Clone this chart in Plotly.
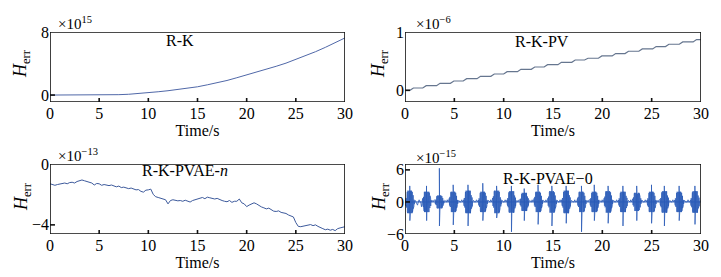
import plotly.graph_objects as go

# ---------------- data ----------------
# Panel 1: R-K (x 1e15)
rk_t = [0, 1, 2, 3, 4, 5, 6, 7, 8, 9, 10, 11, 12, 13, 14, 15, 16, 17, 18, 19,
        20, 21, 22, 23, 24, 25, 26, 27, 28, 29, 30]
rk_v = [0, 0, 0, 0, 0, 0, 0.02, 0.05, 0.10, 0.18, 0.30, 0.42, 0.55, 0.70, 0.87,
        1.05, 1.30, 1.55, 1.85, 2.20, 2.55, 2.90, 3.25, 3.65, 4.05, 4.50, 5.00,
        5.50, 6.05, 6.65, 7.25]

# Panel 2: R-K-PV (x 1e-6), staircase: step times and level after each step
pv_step_t = [0.7, 2.0, 3.4, 4.8, 6.1, 7.5, 8.9, 10.2, 11.6, 13.0, 14.3, 15.7,
             17.1, 18.4, 19.8, 21.2, 22.5, 23.9, 25.3, 26.6, 28.0, 29.4]
pv_level = [0.04, 0.08, 0.12, 0.16, 0.20, 0.24, 0.28, 0.32, 0.36, 0.40, 0.44,
            0.48, 0.52, 0.55, 0.59, 0.63, 0.67, 0.71, 0.75, 0.79, 0.83, 0.87]

# Panel 3: R-K-PVAE-n (x 1e-13), sampled every 0.25 s
n_v = [-1.30, -1.33, -1.40, -1.35, -1.33, -1.28, -1.25, -1.30, -1.22, -1.20,
       -1.25, -1.15, -1.12, -1.05, -1.10, -1.15, -1.20, -1.25, -1.38, -1.28,
       -1.30, -1.40, -1.35, -1.38, -1.42, -1.38, -1.45, -1.50, -1.45, -1.55,
       -1.52, -1.58, -1.62, -1.58, -1.65, -1.70, -1.68, -1.80, -1.85, -1.72,
       -1.70, -1.65, -2.00, -2.15, -2.20, -2.25, -2.30, -2.35, -2.62, -2.40,
       -2.35, -2.38, -2.42, -2.40, -2.45, -2.38, -2.42, -2.50, -2.40, -2.35,
       -2.30, -2.25, -2.20, -2.28, -2.18, -2.22, -2.25, -2.30, -2.26, -2.35,
       -2.40, -2.45, -2.48, -2.40, -2.52, -2.45, -2.45, -2.30, -2.55, -2.62,
       -2.80, -2.70, -2.65, -2.55, -2.62, -2.75, -2.82, -2.88, -2.95, -2.90,
       -3.02, -3.10, -3.12, -3.08, -3.18, -3.20, -3.25, -3.35, -3.40, -3.48,
       -3.85, -4.10, -4.12, -4.08, -4.05, -4.02, -3.98, -4.05, -4.00, -4.10,
       -4.15, -4.25, -4.32, -4.28, -4.35, -4.30, -4.38, -4.25, -4.20, -4.15,
       -4.12]
n_t = [i * 0.25 for i in range(len(n_v))]

# Panel 4: R-K-PVAE-0 (x 1e-15), oscillation bursts
burst_t = [0.5, 2.2, 3.5, 4.9, 6.4, 7.9, 9.3, 10.8, 12.1, 13.5, 14.9, 16.35,
           17.9, 19.2, 20.6, 22.1, 23.5, 25.0, 26.3, 27.8, 29.4]
burst_amp = [2.1, 1.9, 1.2, 1.9, 2.1, 1.9, 2.1, 2.0, 1.7, 1.9, 2.0, 2.1, 1.9,
             1.9, 2.0, 1.9, 1.7, 1.9, 2.0, 1.9, 2.0]
spike_up = [3.0, 3.0, 6.3, 3.2, 3.2, 3.5, 3.0, 3.0, 2.5, 3.2, 3.0, 3.0, 3.0,
            3.2, 3.0, 3.0, 3.0, 3.2, 3.0, 3.0, 3.0]
spike_dn = [-3.5, -3.5, -4.5, -4.3, -4.5, -3.5, -3.0, -5.6, -3.5, -4.2, -4.5,
            -4.0, -5.6, -3.5, -4.0, -4.5, -3.5, -4.0, -4.5, -3.5, -4.2]
# stroke profile across a burst (relative amplitude, read from the bursts)
burst_profile = [0.2, 0.35, 0.25, 0.5, 0.4, 0.9, 1.0, 0.95, 1.0, 1.0, 0.95, 1.0,
                 1.0, 1.0, 0.9, 1.0, 1.0, 0.95, 1.0, 0.9, 0.45, 0.6, 0.3, 0.4, 0.2]
# low-level strokes between bursts
gap_profile = [0.0, 0.4, 0.0, 0.0, 0.9, 0.0, 0.3, 0.0, 0.0, 0.6, 0.0, 0.2]

xticks = [0, 5, 10, 15, 20, 25, 30]

# ---------------- build series ----------------
pv_t, pv_v = [0.0], [0.0]
prev = 0.0
for st, lv in zip(pv_step_t, pv_level):
    pv_t += [st - 0.2, st + 0.15]
    pv_v += [prev, lv]
    prev = lv
pv_t.append(30.0)
pv_v.append(prev)

z_t, z_v = [], []
edges = [0.0] + [(burst_t[i] + burst_t[i + 1]) / 2 for i in range(len(burst_t) - 1)] + [30.0]
HALF = 0.45
for i, c in enumerate(burst_t):
    g0, g1 = edges[i], c - HALF
    if g1 > g0:
        n = max(2, int((g1 - g0) / 0.08))
        for k in range(n):
            tt = g0 + (g1 - g0) * k / n
            a = gap_profile[k % len(gap_profile)]
            z_t.append(tt); z_v.append(a if k % 2 else -a)
    m = len(burst_profile)
    step = 2 * HALF / m
    for k, p in enumerate(burst_profile):
        tt = c - HALF + k * step
        for j in range(4):
            sgn = 1 if (k * 4 + j) % 2 == 0 else -1
            z_t.append(tt + j * step / 4)
            z_v.append(sgn * burst_amp[i] * p)
        if k == m // 2:
            z_t += [tt, tt + 0.01]
            z_v += [spike_up[i], spike_dn[i]]
    g0, g1 = c + HALF, edges[i + 1]
    if g1 > g0:
        n = max(2, int((g1 - g0) / 0.08))
        for k in range(n):
            tt = g0 + (g1 - g0) * k / n
            a = gap_profile[(k + 5) % len(gap_profile)]
            z_t.append(tt); z_v.append(a if k % 2 else -a)

FONT = "Liberation Serif"

W, H = 721, 277
def px(x): return x / W
def py(y): return 1 - y / H

dom = {
    1: ([px(50), px(345)], [py(102), py(32)]),
    2: ([px(405), px(701)], [py(102), py(32)]),
    3: ([px(50), px(345)], [py(234), py(164)]),
    4: ([px(405), px(701)], [py(234), py(164)]),
}
yinfo = {
    1: ([-0.88, 8], [0, 8], ["0", "8"]),
    2: ([-0.2, 1], [0, 1], ["0", "1"]),
    3: ([-4.6, 0], [-4, 0], ["\u22124", "0"]),
    4: ([-6, 7.1], [-6, 0, 6], ["\u22126", "0", "6"]),
}

fig = go.Figure()
axis_common = dict(showline=False, ticks="", showgrid=False, zeroline=False,
                   automargin=False,
                   tickfont=dict(family=FONT, size=16, color="black"))
layout = {}
for i in range(1, 5):
    s = "" if i == 1 else str(i)
    xd, yd = dom[i]
    layout["xaxis" + s] = dict(axis_common, domain=xd, range=[0, 30], tickvals=xticks,
                               anchor="y" + s,
                               title=dict(text="Time/s", font=dict(family=FONT, size=16, color="black"),
                                          standoff=0))
    yr, tv, tt = yinfo[i]
    layout["yaxis" + s] = dict(axis_common, domain=yd, range=yr, tickvals=tv, ticktext=tt,
                               anchor="x" + s)

# data traces
fig.add_trace(go.Scatter(x=rk_t, y=rk_v, mode="lines", line=dict(color="#5068a8", width=1),
                         xaxis="x", yaxis="y"))
fig.add_trace(go.Scatter(x=pv_t, y=pv_v, mode="lines", line=dict(color="#66768f", width=1.2),
                         xaxis="x2", yaxis="y2"))
fig.add_trace(go.Scatter(x=n_t, y=n_v, mode="lines", line=dict(color="#3d5a9c", width=1),
                         xaxis="x3", yaxis="y3"))
fig.add_trace(go.Scatter(x=z_t, y=z_v, mode="lines", line=dict(color="#2b5cb8", width=0.8),
                         xaxis="x4", yaxis="y4"))
fig.add_trace(go.Scatter(x=[0, 30], y=[0, 0], mode="lines", line=dict(color="#2b5cb8", width=1),
                         xaxis="x4", yaxis="y4"))

# frames and inside tick marks, drawn as line traces on top
for i in range(1, 5):
    s = "" if i == 1 else str(i)
    xa, ya = "x" + s, "y" + s
    yr, tv, tt = yinfo[i]
    fx = [0, 30, 30, 0, 0]
    fy = [yr[0], yr[0], yr[1], yr[1], yr[0]]
    dy = (yr[1] - yr[0]) * 4 / 70
    dx = 30 * 5 / 296
    for v in xticks[1:-1]:
        fx += [None, v, v]
        fy += [None, yr[0], yr[0] + dy]
    for v in tv:
        if v in (yr[0], yr[1]):
            continue
        fx += [None, 0, dx]
        fy += [None, v, v]
    fig.add_trace(go.Scatter(x=fx, y=fy, mode="lines", line=dict(color="#111111", width=1.6),
                             cliponaxis=False, xaxis=xa, yaxis=ya, connectgaps=False))

fig.update_layout(width=W, height=H, margin=dict(l=0, r=0, t=0, b=0),
                  paper_bgcolor="white", plot_bgcolor="white", showlegend=False, **layout)

ann = []
# y-axis titles
for xp, yc in [(22, 64), (380, 64), (22, 197), (380, 197)]:
    ann.append(dict(x=px(xp), y=py(yc), xref="paper", yref="paper", textangle=-90,
                    xanchor="center", yanchor="middle",
                    text="<i>H</i><sub>err</sub>", showarrow=False,
                    font=dict(family=FONT, size=18, color="black")))
# exponents
for xp, yp, txt in [(56, 23, "\u00d710<sup>15</sup>"), (414, 23, "\u00d710<sup>\u22126</sup>"),
                    (56, 155, "\u00d710<sup>\u221213</sup>"), (414, 157, "\u00d710<sup>\u221215</sup>")]:
    ann.append(dict(x=px(xp), y=py(yp), xref="paper", yref="paper", xanchor="left",
                    yanchor="middle",
                    text=txt, showarrow=False, font=dict(family=FONT, size=15, color="black")))
# panel labels
for xr, yr_, xv, yv, txt in [("x", "y", 13.2, 6.9, "R-K"), ("x2", "y2", 13.9, 0.83, "R-K-PV"),
                              ("x3", "y3", 13.7, -0.45, "R-K-PVAE-<i>n</i>"),
                              ("x4", "y4", 14.5, 4.4, "R-K-PVAE\u22120")]:
    ann.append(dict(x=xv, y=yv, xref=xr, yref=yr_, text=txt, showarrow=False,
                    xanchor="center", yanchor="middle",
                    font=dict(family=FONT, size=16, color="black")))
fig.update_layout(annotations=ann)

fig.write_html("out.html")
